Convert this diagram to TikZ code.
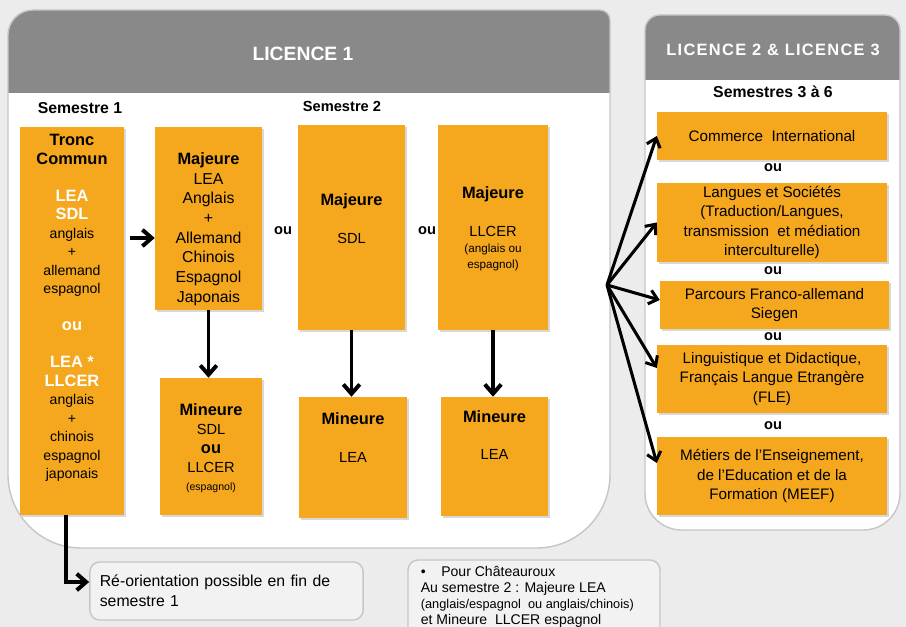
\documentclass[tikz,border=0pt]{standalone}
\usepackage{fontspec}
\setmainfont{Liberation Sans}
\usetikzlibrary{arrows.meta,shadows}
\definecolor{boxorange}{RGB}{245,167,30}
\definecolor{headgray}{RGB}{137,137,137}
\definecolor{bggray}{RGB}{236,236,236}
\definecolor{notegray}{RGB}{242,242,242}
\newcommand{\hd}[1]{{\fontsize{14}{16}\selectfont\bfseries #1}}
\newcommand{\wb}[1]{{\fontsize{14}{16}\selectfont\color{white}\bfseries #1}}
\tikzset{%
  orange box/.style={
    rectangle,
    fill=boxorange,
    drop shadow={shadow xshift=1.5pt, shadow yshift=-1.5pt, opacity=0.3}
  },
  box text/.style={
    align=center,
    inner sep=0pt,
    font=\fontsize{12.5}{16}\selectfont
  },
  right box/.style={
    orange box,
    align=center,
    inner sep=0pt,
    font=\fontsize{13}{16.5}\selectfont
  },
  panel/.style={fill=white, draw=gray!45, line width=1.2pt},
  title/.style={text=white, font=\bfseries\fontsize{16.5}{20}\selectfont},
  sem label/.style={font=\bfseries\fontsize{13.5}{16}\selectfont},
  or label/.style={font=\bfseries\fontsize{12.5}{15}\selectfont},
  note/.style={
    rectangle,
    rounded corners=0.3cm,
    fill=notegray,
    draw=gray!45,
    line width=1.2pt
  },
  thick arrow/.style={line width=3.4pt, -{Straight Barb[length=8pt,width=14pt]}},
  fan arrow/.style={line width=2.6pt, -{Straight Barb[length=7pt,width=12pt]}},
}

\begin{document}
\begin{tikzpicture}[x=0.03cm, y=-0.03cm]

  % Page
  \useasboundingbox (0,0) rectangle (906,627);
  \clip (0,0) rectangle (906,627);
  \fill[bggray] (0,0) rectangle (906,627);

  % Panels with their grey headers
  \draw[panel, path picture={\fill[headgray, sharp corners] (0,0) rectangle (620,93);}]
    (8,300) [rounded corners=0.75cm] -- (8,10) [rounded corners=0.3cm] -- (610,10)
    [rounded corners=2.2cm] -- (610,548) -- (8,548) -- cycle;
  \draw[panel, path picture={\fill[headgray, sharp corners] (640,0) rectangle (910,80);}]
    (645,300) [rounded corners=0.45cm] -- (645,15) -- (900,15)
    [rounded corners=1.1cm] -- (900,530) -- (645,530) -- cycle;

  \node[title] (l1-title) at (303,54) {LICENCE 1};
  \node[title, font=\bfseries\fontsize{14}{17}\selectfont] (l23-title) at (773,50)
    {\addfontfeature{LetterSpace=8}LICENCE 2 \& LICENCE 3};

  % Semester labels
  \node[sem label] (sem-1) at (80,108) {Semestre 1};
  \node[sem label, font=\bfseries\fontsize{12.5}{15}\selectfont] (sem-2) at (342,106) {Semestre 2};
  \node[sem label] (sem-36) at (773,92) {Semestres 3 à 6};

  % Semester 1
  \node[orange box, minimum width=3.12cm, minimum height=11.64cm] (tronc) at (72,321) {};
  \node[box text, font=\fontsize{12}{15.8}\selectfont] (tronc-text) at (72,308)
    {\hd{Tronc}\\\hd{Commun}\\[15.8pt]\wb{LEA}\\\wb{SDL}\\anglais\\+\\allemand\\espagnol\\[15.8pt]%
     \wb{ou}\\[15.8pt]\wb{LEA *}\\\wb{LLCER}\\anglais\\+\\chinois\\espagnol\\japonais};

  % Semester 2: majors
  \node[orange box, minimum width=3.21cm, minimum height=5.49cm] (majlea) at (208.5,218.5) {};
  \node[box text, font=\fontsize{13.5}{16.8}\selectfont] (majlea-text) at (208.5,229)
    {\hd{Majeure}\\LEA\\Anglais\\+\\Allemand\\Chinois\\Espagnol\\Japonais};
  \node[orange box, minimum width=3.21cm, minimum height=6.15cm] (majsdl) at (351.5,227.5) {};
  \node[box text] (majsdl-text) at (351.5,218.5) {\hd{Majeure}\\[16pt]SDL};
  \node[orange box, minimum width=3.3cm, minimum height=6.15cm] (majllcer) at (493,227.5) {};
  \node[box text] (majllcer-text) at (493,229)
    {\hd{Majeure}\\[16pt]LLCER\\[-2pt]{\fontsize{10}{12}\selectfont(anglais ou}\\[-2pt]{\fontsize{10}{12}\selectfont espagnol)}};

  \node[or label] (or-1) at (283,231) {ou};
  \node[or label] (or-2) at (427,231) {ou};

  % Semester 2: minors
  \node[orange box, minimum width=3.06cm, minimum height=4.11cm] (minsdl) at (211,446.5) {};
  \node[box text] (minsdl-text) at (211,448.5)
    {\hd{Mineure}\\SDL\\\hd{ou}\\LLCER\\{\fontsize{9}{11}\selectfont(espagnol)}};
  \node[orange box, minimum width=3.24cm, minimum height=3.63cm] (minlea-a) at (353,457.5) {};
  \node[box text] (minlea-a-text) at (353,437.5) {\hd{Mineure}\\[16pt]LEA};
  \node[orange box, minimum width=3.21cm, minimum height=3.57cm] (minlea-b) at (494.5,456.5) {};
  \node[box text] (minlea-b-text) at (494.5,435) {\hd{Mineure}\\[16pt]LEA};

  % Licence 2 and 3 tracks
  \node[right box, minimum width=6.9cm, minimum height=1.44cm] (commerce) at (772,136)
    {Commerce~ International};
  \node[right box, minimum width=6.9cm, minimum height=2.37cm] (langues) at (772,222.5)
    {Langues et Sociétés\\(Traduction/Langues,\\transmission~ et médiation\\interculturelle)};
  \node[right box, minimum width=6.87cm, minimum height=1.44cm] (parcours) at (774.5,305)
    {Parcours Franco-allemand\\Siegen};
  \node[right box, minimum width=6.9cm, minimum height=2.04cm] (ling) at (772,379)
    {Linguistique et Didactique,\\Français Langue Etrangère\\(FLE)};
  \node[right box, minimum width=6.9cm, minimum height=2.34cm] (metiers) at (772,476)
    {Métiers de l’Enseignement,\\de l’Education et de la\\Formation (MEEF)};

  \foreach \y [count=\i] in {168,271,337,426}
    \node[or label] (or-r\i) at (773,\y) {ou};

  % Notes at the bottom
  \node[note, text width=7.6cm, minimum height=1.74cm, align=left, inner xsep=0.3cm,
        font=\fontsize{13.5}{17}\selectfont]
    (reorient) at (226.5,591) {Ré-orientation possible en fin de\\semestre 1};
  \node[note, minimum width=7.56cm, minimum height=2.4cm] (chateauroux) at (534,600) {};
  \node[anchor=north west, inner sep=0pt, align=left, font=\fontsize{12}{13.8}\selectfont]
    (chateauroux-text) at ([xshift=0.4cm, yshift=-0.2cm]chateauroux.north west)
    {\textbullet\hspace{1.1em}Pour Châteauroux\\Au semestre 2 : Majeure LEA\\%
     {\fontsize{10.9}{12}\selectfont(anglais/espagnol~ ou anglais/chinois)}\\et Mineure~ LLCER espagnol};

  % Arrows in Licence 1
  \draw[thick arrow] ([xshift=0.18cm, yshift=2.49cm]tronc.east) -- ([yshift=-0.585cm]majlea.west);
  \draw[thick arrow] (majlea.south) -- (majlea.south |- minsdl.north);
  \draw[thick arrow] (majsdl.south) -- (majsdl.south |- minlea-a.north);
  \draw[thick arrow] (majllcer.south) -- (majllcer.south |- minlea-b.north);
  \draw[thick arrow] ([xshift=-0.18cm]tronc.south) |- ([yshift=0.27cm]reorient.west);

  % Arrows towards Licence 2 and 3
  \coordinate (fan) at (607,285);
  \draw[fan arrow] (fan) -- (commerce.west);
  \draw[fan arrow] (fan) -- (langues.west);
  \draw[fan arrow] (fan) -- ([yshift=0.15cm]parcours.west);
  \draw[fan arrow] (fan) -- ([yshift=0.33cm]ling.west);
  \draw[fan arrow] (fan) -- ([yshift=0.39cm]metiers.west);

\end{tikzpicture}
\end{document}
